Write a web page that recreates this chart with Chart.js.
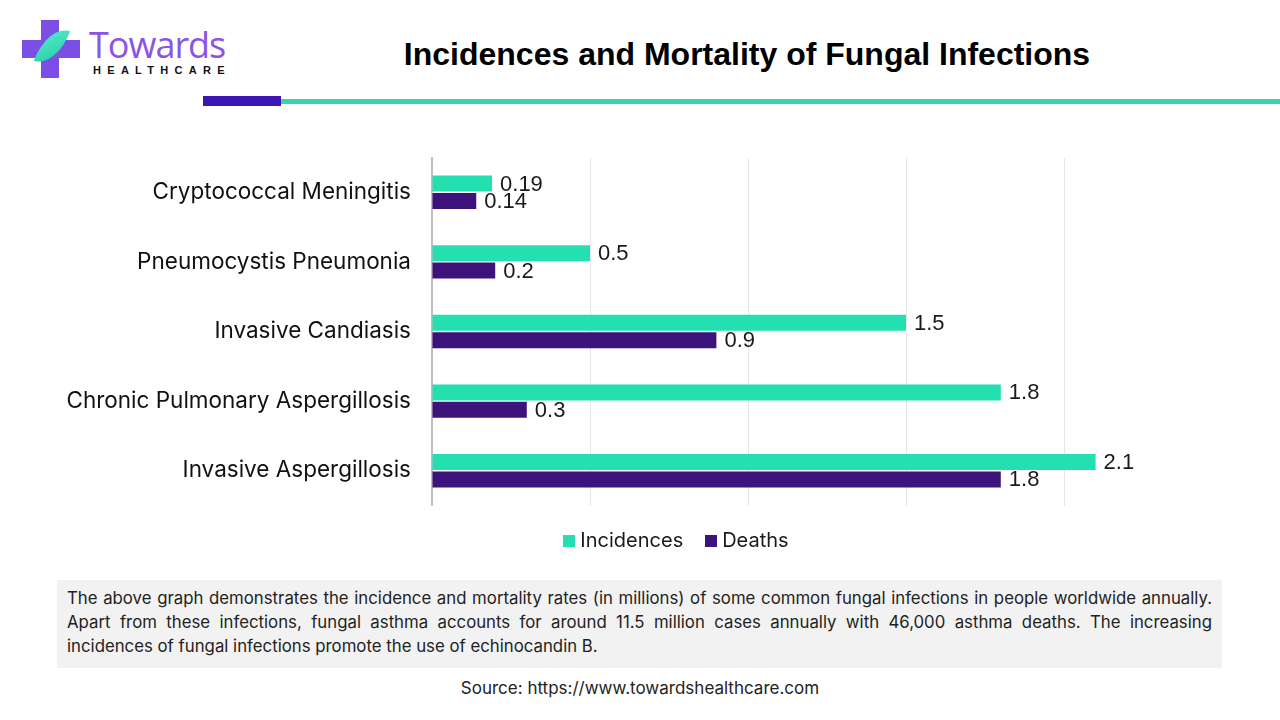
<!DOCTYPE html>
<html>
<head>
<meta charset="utf-8">
<script src="https://cdn.jsdelivr.net/npm/chart.js@4.4.1/dist/chart.umd.min.js"></script>
<style>
  body { margin: 0; width: 1280px; height: 720px; background: #fff; position: relative; overflow: hidden; font-family: Inter, "Noto Sans", sans-serif; }
  .title { position: absolute; left: 0; width: 1494px; top: 36px; text-align: center; font: bold 32px "Liberation Sans", Arial, sans-serif; color: #000; }
  .bar-purple { position: absolute; left: 203px; top: 96px; width: 78px; height: 10px; background: #3d17b3; }
  .bar-teal { position: absolute; left: 281px; top: 99px; width: 999px; height: 5px; background: #33d6ae; }
  .logo-v { position: absolute; left: 41px; top: 20px; width: 18px; height: 58px; background: #7b4fe6; }
  .logo-h { position: absolute; left: 22px; top: 40px; width: 58px; height: 18px; background: #7b4fe6; }
  .leaf { position: absolute; left: 40px; top: 26px; width: 24px; height: 40px; background: linear-gradient(135deg, #5ef0cf, #1fc9a0); border-radius: 100% 0 100% 0; transform: rotate(20deg); }
  .logo-t { position: absolute; left: 89px; top: 20px; font: 36px "Open Sans", sans-serif; color: #8a55e6; letter-spacing: -1px; }
  .logo-s { position: absolute; left: 93px; top: 64px; font: bold 11px "Liberation Sans", Arial, sans-serif; color: #111; letter-spacing: 6.3px; }
  #wrap { position: absolute; left: 0; top: 131px; width: 1240px; height: 401px; }
  #legend { position: absolute; left: 0; width: 1352px; top: 527px; text-align: center; font-size: 20px; line-height: 26px; color: #1a1a1a; }
  #legend span.item { margin: 0 11px; white-space: nowrap; }
  #legend span.box { display: inline-block; width: 12px; height: 12px; margin-right: 5px; vertical-align: 0px; }
  .note { position: absolute; left: 57px; top: 580px; width: 1165px; height: 88px; background: #f2f2f2; box-sizing: border-box; padding: 6px 10px 0 10px; font-size: 16.8px; line-height: 24px; color: #222; }
  .note div { text-align: justify; text-align-last: justify; white-space: nowrap; }
  .note div.last { text-align-last: left; }
  .src { position: absolute; left: 0; width: 1280px; top: 678px; text-align: center; font-size: 17px; color: #222; }
</style>
</head>
<body>
<div class="logo-v"></div><div class="logo-h"></div><div class="leaf"></div>
<div class="logo-t">Towards</div>
<div class="logo-s">HEALTHCARE</div>
<div class="title">Incidences and Mortality of Fungal Infections</div>
<div class="bar-purple"></div><div class="bar-teal"></div>
<div id="wrap"><canvas id="myChart"></canvas></div>
<div id="legend"></div>
<div class="note">
  <div>The above graph demonstrates the incidence and mortality rates (in millions) of some common fungal infections in people worldwide annually.</div>
  <div>Apart from these infections, fungal asthma accounts for around 11.5 million cases annually with 46,000 asthma deaths. The increasing</div>
  <div class="last">incidences of fungal infections promote the use of echinocandin B.</div>
</div>
<div class="src">Source: https://www.towardshealthcare.com</div>
<script>
const labels = [
  'Cryptococcal Meningitis',
  'Pneumocystis Pneumonia',
  'Invasive Candiasis',
  'Chronic Pulmonary Aspergillosis',
  'Invasive Aspergillosis',
];

const incidences = [0.19, 0.5, 1.5, 1.8, 2.1];
const deaths = [0.14, 0.2, 0.9, 0.3, 1.8];

// value labels at the end of each bar
const barValues = {
  id: 'barValues',
  afterDatasetsDraw(chart) {
    const ctx = chart.ctx;
    ctx.save();
    ctx.font = '22px "Liberation Sans", Arial, sans-serif';
    ctx.fillStyle = '#1a1a1a';
    ctx.textBaseline = 'middle';
    ctx.textAlign = 'left';
    chart.data.datasets.forEach((ds, i) => {
      chart.getDatasetMeta(i).data.forEach((bar, j) => {
        ctx.fillText(String(ds.data[j]), bar.x + 8, bar.y + 1);
      });
    });
    ctx.restore();
  }
};

const data = {
  labels: labels,
  datasets: [
    {
      label: 'Incidences',
      backgroundColor: '#24e0b1',
      data: incidences,
      categoryPercentage: 0.5,
      barPercentage: 0.92,
    },
    {
      label: 'Deaths',
      backgroundColor: '#3c137a',
      data: deaths,
      categoryPercentage: 0.5,
      barPercentage: 0.92,
    }
  ]
};

const config = {
  type: 'bar',
  data: data,
  options: {
    indexAxis: 'y',
    responsive: true,
    maintainAspectRatio: false,
    animation: false,
    layout: { padding: { top: 12, right: 18, bottom: 0 } },
    plugins: {
      tooltip: { enabled: false },
      legend: { display: false }
    },
    scales: {
      x: {
        min: 0,
        max: 2.5,
        ticks: { display: false, stepSize: 0.5 },
        border: { display: false },
        grid: {
          drawTicks: false,
          color: (c) => (c.tick && (c.tick.value === 0 || c.tick.value === 2.5)) ? 'rgba(0,0,0,0)' : '#e6e6e6',
        }
      },
      y: {
        afterFit: (s) => { s.width = 432; },
        ticks: {
          padding: 13,
          color: '#111',
          font: { family: 'Inter, "Noto Sans", sans-serif', size: 22.5 },
        },
        grid: { display: false },
        border: { color: '#bfbfbf', width: 2 }
      }
    }
  },
  plugins: [barValues]
};

const myChart = new Chart(document.getElementById('myChart'), config);

// legend built from the chart's datasets, placed like the original
const legendEl = document.getElementById('legend');
myChart.data.datasets.forEach((ds) => {
  const item = document.createElement('span');
  item.className = 'item';
  const box = document.createElement('span');
  box.className = 'box';
  box.style.background = ds.backgroundColor;
  item.appendChild(box);
  item.appendChild(document.createTextNode(ds.label));
  legendEl.appendChild(item);
});
</script>
</body>
</html>
